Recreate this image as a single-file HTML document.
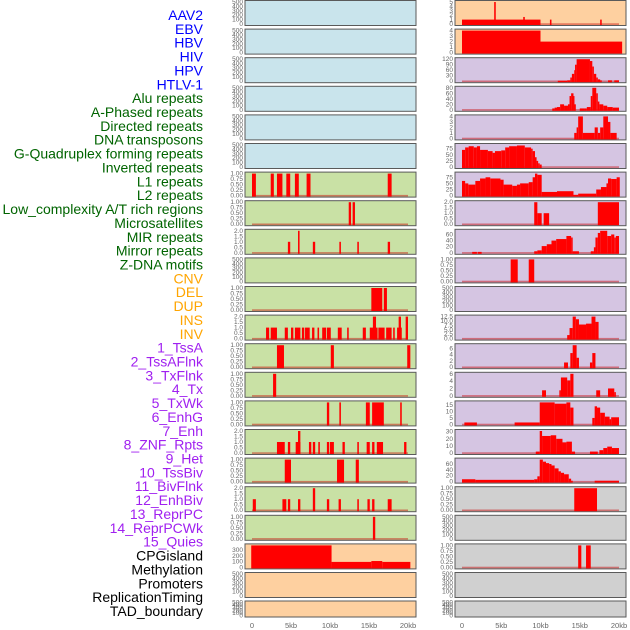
<!DOCTYPE html>
<html><head><meta charset="utf-8"><style>
html,body{margin:0;padding:0;background:#fff;width:630px;height:630px;overflow:hidden}
svg{display:block;font-family:"Liberation Sans",sans-serif}
</style></head><body>
<svg id="chart" width="630" height="630" viewBox="0 0 630 630"></svg>
<script>
// Track labels and colors
const trackLabels = ["AAV2","EBV","HBV","HIV","HPV","HTLV-1","Alu repeats","A-Phased repeats","Directed repeats","DNA transposons","G-Quadruplex forming repeats","Inverted repeats","L1 repeats","L2 repeats","Low_complexity A/T rich regions","Microsatellites","MIR repeats","Mirror repeats","Z-DNA motifs","CNV","DEL","DUP","INS","INV","1_TssA","2_TssAFlnk","3_TxFlnk","4_Tx","5_TxWk","6_EnhG","7_Enh","8_ZNF_Rpts","9_Het","10_TssBiv","11_BivFlnk","12_EnhBiv","13_ReprPC","14_ReprPCWk","15_Quies","CPGisland","Methylation","Promoters","ReplicationTiming","TAD_boundary"];
const trackGroupSizes = [6,13,5,15,5];
const xTickValues = [0,5,10,15,20];
const xTickLabels = ["0","5kb","10kb","15kb","20kb"];

// Left column panel segments [startKb, endKb, value]
const L00=[],L01=[],L02=[],L03=[],L04=[],L05=[];
const L06=[[0,0.5,1],[2.4,2.8,1],[3.2,3.9,1],[4.4,4.9,1],[5.5,6,1],[7,7.5,1],[17.4,17.9,1]];
const L07=[[12.4,12.7,1],[12.9,13.2,1]];
const L08=[[4.6,4.9,1],[5.9,6.1,2],[7.8,8.1,1],[11.2,11.4,1],[13.5,13.7,1],[17.4,17.7,1]];
const L09=[];
const L10=[[15.3,16.7,1],[16.9,17.3,1]];
const L11=[[1.8,2.2,1],[2.4,3.2,1],[4.2,4.6,1],[5,5.3,1],[5.5,6.2,1],[6.4,6.7,1],[6.8,7.4,1],[7.7,8,1],[8.4,8.6,1],[9,9.5,1],[9.6,10.1,1],[11,11.5,1],[12.2,12.4,1],[14.2,14.6,1],[15.1,16.1,1],[15.5,15.9,2],[16.2,17,1],[17.2,17.9,1],[18.1,18.3,1],[18.6,19.2,1],[18.8,19.1,2],[19.7,20,2]];
const L12=[[3.2,4.1,1],[10.1,10.5,1],[19.9,20.3,1]];
const L13=[[2.7,3.1,1]];
const L14=[[9.6,9.9,1],[11.2,11.4,1],[14.6,15.1,1],[15.4,16.9,1],[19,19.2,1]];
const L15=[[3.2,4.2,1],[4.6,4.9,1],[5.6,6.2,1],[5.9,6.2,2],[7.3,7.6,1],[7.8,8.1,1],[8.5,8.7,1],[9.6,9.9,1],[10,10.5,1],[11.6,11.9,1],[13.5,13.7,1],[14.7,15.1,1],[15.4,15.7,1],[16,16.8,1],[19.5,19.8,1]];
const L16=[[4.2,5,1],[10.9,11.8,1],[13.3,13.7,1]];
const L17=[[0.1,0.5,1],[3.9,4.4,1],[4.6,4.9,1],[5.9,6.2,1],[7.8,8.1,2],[9.6,9.9,1],[11.1,11.4,1],[13.5,13.7,1],[14.8,15.1,1],[15.4,15.7,1],[17.4,17.9,1]];
const L18=[[15.5,15.8,1]];
const L19=[[-0.1,10.2,380],[10.2,15.3,95],[15.3,16.7,110],[16.7,20.3,95]];
const L20=[],L21=[];

// Right column panel segments
const R00=[[0,10,1],[4.1,4.3,5],[7.8,8,1.6],[11.2,11.4,1],[17.6,17.8,1]];
const R01=[[0,10,4],[10,20.4,2]];
const R02=[[12.2,13.4,3],[13.4,13.8,5],[13.8,14,20],[14,14.3,40],[14.3,14.4,60],[14.4,14.6,90],[14.6,16.3,120],[16.3,16.6,110],[16.6,16.8,80],[16.8,17.1,40],[17.1,17.3,20],[17.3,17.6,10],[17.6,17.8,5],[18.6,19.1,5],[19.4,20,5]];
const R03=[[11.5,11.8,5],[11.8,12.1,8],[12.1,12.5,10],[12.5,13,20],[13,13.5,15],[13.5,13.7,20],[13.7,13.9,50],[13.9,14.2,60],[14.2,14.3,50],[14.3,14.5,20],[15,15.6,5],[15.6,15.9,5],[15.9,16.4,10],[16.4,16.6,50],[16.6,17.1,80],[17.1,17.3,60],[17.3,17.5,30],[17.5,18,20],[18,18.5,15],[18.5,19.2,10],[19.2,20,8]];
const R04=[[14.3,14.6,1],[14.6,14.8,2],[14.8,15.4,4],[15.4,16.9,1],[16.9,17.3,2],[17.3,17.6,1],[17.6,18,2],[18,18.6,4],[18.6,18.9,3],[18.9,19.7,1]];
const R05=[[0,0.4,70],[0.4,0.85,80],[0.85,1.5,85],[1.5,1.9,80],[1.9,2.3,85],[2.3,3.3,70],[3.3,3.9,65],[3.9,4.2,58],[4.2,5,65],[5,5.5,68],[5.5,6,80],[6,7,85],[7,8,88],[8,8.8,80],[8.8,9,75],[9,9.3,65],[9.3,9.5,40],[9.5,9.7,25],[9.7,9.9,15],[9.9,10.15,10]];
const R06=[[0,0.4,60],[0.4,0.8,50],[0.8,1.7,45],[1.7,2.3,60],[2.3,3,70],[3,3.6,75],[3.6,4.9,70],[4.9,5.3,65],[5.3,6.4,45],[6.4,7,40],[7,7.4,45],[7.4,8.5,50],[8.5,9,55],[9,9.3,75],[9.3,9.6,90],[9.6,10.15,85],[10.15,12.1,15],[12.1,14.2,18],[14.2,14.8,3],[14.8,17.1,8],[17.1,17.7,25],[17.7,18.4,35],[18.4,18.6,50],[18.6,19,70],[19,19.7,68],[19.7,20.1,75]];
const R07=[[9.2,9.6,2],[9.6,10.15,1],[10.4,11.1,1],[17.3,20,2]];
const R08=[[1.3,1.9,3],[2,2.5,3],[9.2,9.6,5],[9.6,10.15,8],[10.15,10.8,22],[10.8,11.4,28],[11.4,12,40],[12,13.3,45],[13.3,13.9,55],[13.9,14.1,50],[14.1,14.9,5],[16.4,16.8,5],[16.8,17,18],[17,17.3,50],[17.3,17.6,65],[17.6,18.5,72],[18.5,19,55],[19,19.4,60],[19.4,19.6,50],[19.6,20,55]];
const R09=[[6.2,7.1,1],[8.5,9.2,1]];
const R10=[];
const R11=[[13.4,13.7,2],[13.7,14.1,6],[14.1,14.5,12.5],[14.5,14.9,11],[14.9,15.8,8],[15.8,16.5,8.5],[16.5,17,12.5],[17,17.4,9.5]];
const R12=[[13,13.5,1.5],[13.8,14.1,4.5],[14.1,14.6,7],[14.6,14.9,3],[16.3,16.6,1.5],[16.6,17,4.5]];
const R13=[[10.2,10.7,1.5],[12.4,12.6,1.5],[12.6,13.4,5],[13.4,13.8,4.2],[13.8,14.2,6],[17.1,17.6,1.5],[18.6,19.4,2],[19.4,19.6,1]];
const R14=[[0.3,1.9,1.5],[6.7,9.9,1.5],[9.9,11.8,17],[11.8,13.3,16],[13.3,13.8,17],[13.8,14.2,13],[16.6,16.9,5],[16.9,17.2,14],[17.2,17.6,13],[17.6,18.2,9],[18.2,18.8,6],[18.8,19,4],[19,20,5.5]];
const R15=[[9.4,9.9,2],[9.9,10.2,31],[10.2,11.3,24],[11.3,12,25],[12,12.8,20],[12.8,13.3,15],[13.3,14,16],[14,14.4,2],[16.3,17.3,2],[17.5,18,4],[18,18.5,7],[18.5,19.1,9],[19.1,20,7]];
const R16=[[0,1.7,8],[1.7,9.2,6],[9.2,9.6,8],[9.6,9.9,18],[9.9,10.3,75],[10.3,10.7,68],[10.7,11.1,63],[11.1,11.4,60],[11.4,11.8,55],[11.8,12.3,45],[12.3,12.6,35],[12.6,13,30],[13,13.6,25],[13.6,13.9,10],[13.9,14.1,3],[16.9,20,3]];
const R17=[[14.3,17.2,1]];
const R18=[];
const R19=[[14.8,15.2,1],[15.8,16.4,1]];
const R20=[],R21=[];

const leftSegs=[L00,L01,L02,L03,L04,L05,L06,L07,L08,L09,L10,L11,L12,L13,L14,L15,L16,L17,L18,L19,L20,L21];
const rightSegs=[R00,R01,R02,R03,R04,R05,R06,R07,R08,R09,R10,R11,R12,R13,R14,R15,R16,R17,R18,R19,R20,R21];
const leftYmax=[500,500,500,500,500,500,1,1,2,500,1,2,1,1,1,2,1,2,1,380,500,500];
const rightYmax=[5,4,120,80,4,90,90,2,72,1,500,12.5,7,6,17,31,75,1,500,1,500,500];
const leftColors=["#c9e4ec","#c9e4ec","#c9e4ec","#c9e4ec","#c9e4ec","#c9e4ec","#c9e1a5","#c9e1a5","#c9e1a5","#c9e1a5","#c9e1a5","#c9e1a5","#c9e1a5","#c9e1a5","#c9e1a5","#c9e1a5","#c9e1a5","#c9e1a5","#c9e1a5","#fed0a0","#fed0a0","#fed0a0"];
const rightColors=["#fed0a0","#fed0a0","#d5c5e2","#d5c5e2","#d5c5e2","#d5c5e2","#d5c5e2","#d5c5e2","#d5c5e2","#d5c5e2","#d5c5e2","#d5c5e2","#d5c5e2","#d5c5e2","#d5c5e2","#d5c5e2","#d5c5e2","#d0d0d0","#d0d0d0","#d0d0d0","#d0d0d0","#d0d0d0"];

const NS="http://www.w3.org/2000/svg";
const svg=document.getElementById('chart');
function mk(tag,attrs,parent){const e=document.createElementNS(NS,tag);for(const k in attrs)e.setAttribute(k,attrs[k]);(parent||svg).appendChild(e);return e;}

// Labels
const groupColors=["#0000ff","#006400","#ffa500","#a020f0","#000000"];
let gi=0,cnt=0;
trackLabels.forEach((t,i)=>{
  if(cnt>=trackGroupSizes[gi]){gi++;cnt=0;}
  cnt++;
  const tx=mk('text',{x:203,y:(20+13.86*i).toFixed(1),'text-anchor':'end','font-size':'14',fill:groupColors[gi]});
  tx.textContent=t;
  
  
});

function fmtTicks(ymax){
  if(ymax===1) return [[0,"0.00"],[0.25,"0.25"],[0.5,"0.50"],[0.75,"0.75"],[1,"1.00"]];
  if(ymax===2) return [[0,"0.0"],[0.5,"0.5"],[1,"1.0"],[1.5,"1.5"],[2,"2.0"]];
  if(ymax===500) return [[0,"0"],[100,"100"],[200,"200"],[300,"300"],[400,"400"],[500,"500"]];
  if(ymax===12.5) return [[0,"0.0"],[2.5,"2.5"],[5,"5.0"],[7.5,"7.5"],[10,"10.0"],[12.5,"12.5"]];
  let step;
  if(ymax<=5) step=1; else if(ymax<=7) step=2; else if(ymax<=20) step=5; else if(ymax<=35) step=10; else if(ymax<=80) step=20; else if(ymax<=100) step=25; else if(ymax<=150) step=30; else step=100;
  const r=[];for(let v=0;v<=ymax+1e-9;v+=step)r.push([v,String(v)]);return r;
}

function drawPanel(col,i){
  const segs=col===0?leftSegs[i]:rightSegs[i];
  const ymax=col===0?leftYmax[i]:rightYmax[i];
  const fill=col===0?leftColors[i]:rightColors[i];
  const px0=col===0?245:455, pw=171;
  const x0=col===0?252:462, k=col===0?7.8:7.85;
  const top=i<21?0.5+28.6*i:601, h=i<21?25:16;
  const bot=top+h;
  const g=mk('g',{});
  
  
  mk('rect',{x:px0,y:top,width:pw,height:h,fill:fill,stroke:'#5a5a5a','stroke-width':1},g);
  const yS=v=>bot-1.5-(v/ymax)*(h-3);
  const xS=kb=>Math.max(px0+0.5,Math.min(px0+pw-0.5,x0+kb*k));
  fmtTicks(ymax).forEach(([v,l])=>{
    const t=mk('text',{x:px0-2,y:(yS(v)+2).toFixed(1),'text-anchor':'end','font-size':'6.5',fill:'#666'},g);
    t.textContent=l;
    
    
  });
  if(segs.length){
    const bl=mk('rect',{x:xS(0),y:bot-2.2,width:xS(20)-xS(0),height:1.6,fill:'rgba(200,0,0,0.45)'},g);
    
    
  }
  segs.forEach(s=>{
    if(s.length<3)return;
    const xa=xS(s[0]),xb=xS(s[1]);const yv=Math.max(top+0.5,yS(s[2]));
    const r=mk('rect',{x:xa.toFixed(2),y:yv.toFixed(2),width:Math.max(1,xb-xa).toFixed(2),height:(bot-0.5-yv).toFixed(2),fill:'#ff0000'},g);
    
    
  });
}
for(let i=0;i<22;i++){drawPanel(0,i);drawPanel(1,i);}

// X axes
[[252,7.8],[462,7.85]].forEach(([x0,k],c)=>{
  xTickValues.forEach((v,j)=>{
    const t=mk('text',{x:x0+v*k,y:628,'text-anchor':'middle','font-size':'7.5',fill:'#666'});
    t.textContent=xTickLabels[j];
    
    
  });
});
</script>
</body></html>
